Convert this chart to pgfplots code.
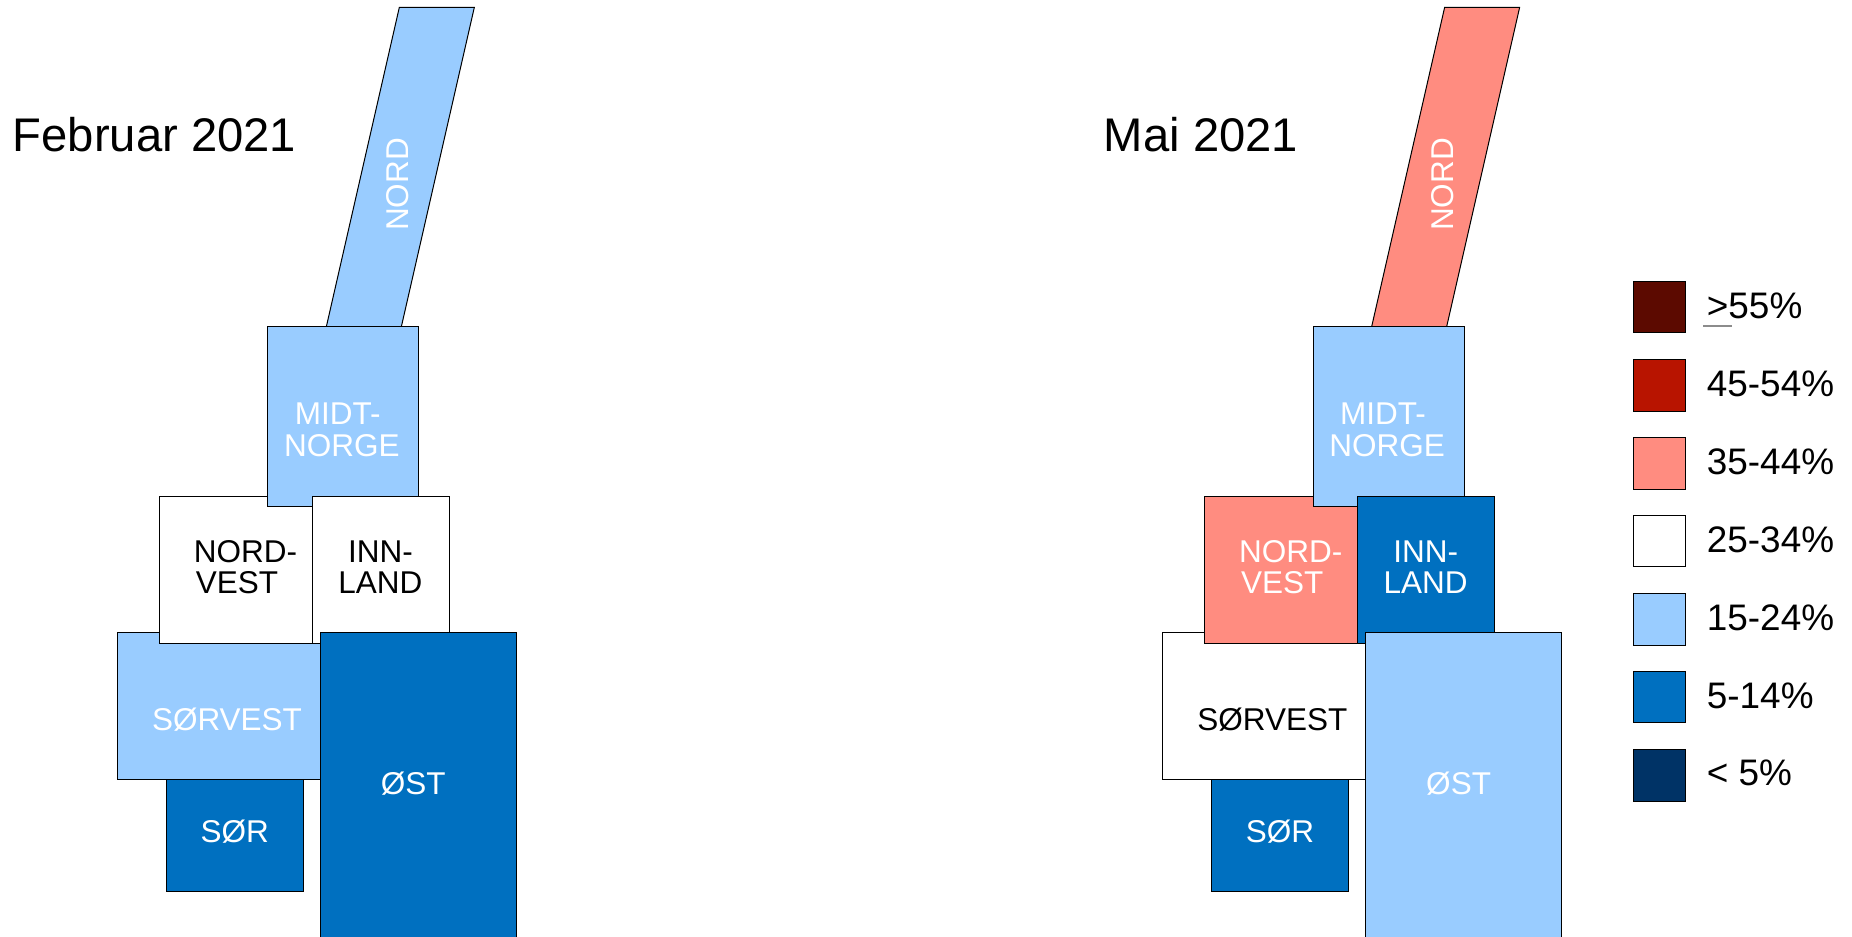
\documentclass[border=0pt]{standalone}
\usepackage{fontspec}
\setmainfont{Liberation Sans}
\usepackage{pgfplots}
\pgfplotsset{compat=1.18}
\definecolor{cA}{HTML}{5C0A00}
\definecolor{cB}{HTML}{B81400}
\definecolor{cC}{HTML}{FF8C80}
\definecolor{cD}{HTML}{FFFFFF}
\definecolor{cE}{HTML}{99CCFF}
\definecolor{cF}{HTML}{0070C0}
\definecolor{cG}{HTML}{003366}
\newcommand{\lab}[4]{\node[anchor=base,inner sep=0pt,text=#4,font=\fontsize{15.75}{15.75}\selectfont] at (axis cs:#1,#2) {#3};}
\newcommand{\leg}[2]{\node[anchor=base west,inner sep=0pt,text=black,font=\fontsize{18.45}{18.45}\selectfont] at (axis cs:1706.5,#1) {#2};}
\begin{document}
\begin{tikzpicture}
\begin{axis}[
  hide axis, scale only axis, width=926pt, height=468.3pt,
  xmin=0, xmax=1852, ymin=0, ymax=937, y dir=reverse,
  every axis plot/.append style={draw=black, line width=0.5pt, mark=none, line join=miter},
]
% Februar 2021
\addplot[fill=cE] coordinates {(399.3,7.5)(474.3,7.5)(401.3,327)(326.3,327)} -- cycle;
\addplot[fill=cF] coordinates {(166.3,780.3)(303.3,780.3)(303.3,891.5)(166.3,891.5)} -- cycle;
\addplot[fill=cE] coordinates {(117,633)(320,633)(320,780.3)(117,780.3)} -- cycle;
\addplot[fill=cD] coordinates {(159.3,497)(320,497)(320,643.3)(159.3,643.3)} -- cycle;
\addplot[fill=cE] coordinates {(267.5,327)(418.7,327)(418.7,506.3)(267.5,506.3)} -- cycle;
\addplot[fill=cD] coordinates {(312.3,497)(449.3,497)(449.3,643.3)(312.3,643.3)} -- cycle;
\addplot[fill=cF] coordinates {(320,633)(516.3,633)(516.3,945)(320,945)} -- cycle;
% Mai 2021
\addplot[fill=cC] coordinates {(1444.6,7.5)(1519.6,7.5)(1446.6,327)(1371.6,327)} -- cycle;
\addplot[fill=cF] coordinates {(1211.6,780.3)(1348.6,780.3)(1348.6,891.5)(1211.6,891.5)} -- cycle;
\addplot[fill=cD] coordinates {(1162.3,633)(1365.3,633)(1365.3,780.3)(1162.3,780.3)} -- cycle;
\addplot[fill=cC] coordinates {(1204.6,497)(1365.3,497)(1365.3,643.3)(1204.6,643.3)} -- cycle;
\addplot[fill=cE] coordinates {(1313,327)(1464,327)(1464,506.3)(1313,506.3)} -- cycle;
\addplot[fill=cF] coordinates {(1357.8,497)(1494.6,497)(1494.6,643.3)(1357.8,643.3)} -- cycle;
\addplot[fill=cE] coordinates {(1365.3,633)(1561.6,633)(1561.6,945)(1365.3,945)} -- cycle;
% legend swatches
\addplot[fill=cA] coordinates {(1633.3,281.3)(1685.7,281.3)(1685.7,333)(1633.3,333)} -- cycle;
\addplot[fill=cB] coordinates {(1633.3,359.7)(1685.7,359.7)(1685.7,411.3)(1633.3,411.3)} -- cycle;
\addplot[fill=cC] coordinates {(1633.3,437.7)(1685.7,437.7)(1685.7,489.5)(1633.3,489.5)} -- cycle;
\addplot[fill=cD] coordinates {(1633.3,516)(1685.7,516)(1685.7,567)(1633.3,567)} -- cycle;
\addplot[fill=cE] coordinates {(1633.3,594)(1685.7,594)(1685.7,645.5)(1633.3,645.5)} -- cycle;
\addplot[fill=cF] coordinates {(1633.3,672)(1685.7,672)(1685.7,723)(1633.3,723)} -- cycle;
\addplot[fill=cG] coordinates {(1633.3,750)(1685.7,750)(1685.7,801.5)(1633.3,801.5)} -- cycle;
\addplot[draw=black!45, line width=0.7pt] coordinates {(1703.3,326)(1731.7,326)};
% titles
\node[anchor=base west,inner sep=0pt,font=\fontsize{23.6}{23.6}\selectfont] at (axis cs:12.5,151.5) {Februar 2021};
\node[anchor=base west,inner sep=0pt,font=\fontsize{23.6}{23.6}\selectfont] at (axis cs:1103.5,151.5) {Mai 2021};
% labels Februar
\node[anchor=base,rotate=90,inner sep=0pt,text=white,font=\fontsize{15.75}{15.75}\selectfont] at (axis cs:408,184.5) {NORD};
\lab{337.7}{424.3}{MIDT-}{white}
\lab{341.8}{456.7}{NORGE}{white}
\lab{245.5}{562.7}{NORD-}{black}
\lab{237}{593.7}{VEST}{black}
\lab{380.5}{562.7}{INN-}{black}
\lab{380.3}{593.7}{LAND}{black}
\lab{227}{730.7}{SØRVEST}{white}
\lab{413.3}{794.7}{ØST}{white}
\lab{234.7}{842.7}{SØR}{white}
% labels Mai
\node[anchor=base,rotate=90,inner sep=0pt,text=white,font=\fontsize{15.75}{15.75}\selectfont] at (axis cs:1453.3,184.5) {NORD};
\lab{1383}{424.3}{MIDT-}{white}
\lab{1387.1}{456.7}{NORGE}{white}
\lab{1290.8}{562.7}{NORD-}{white}
\lab{1282.3}{593.7}{VEST}{white}
\lab{1425.8}{562.7}{INN-}{white}
\lab{1425.6}{593.7}{LAND}{white}
\lab{1272.3}{730.7}{SØRVEST}{black}
\lab{1458.6}{794.7}{ØST}{white}
\lab{1280}{842.7}{SØR}{white}
% legend text
\leg{319}{>55\%}
\leg{396.7}{45-54\%}
\leg{474.3}{35-44\%}
\leg{552.7}{25-34\%}
\leg{630.7}{15-24\%}
\leg{708.3}{5-14\%}
\leg{786}{< 5\%}
\path (axis cs:0,0) rectangle (axis cs:1852,937);
\end{axis}
\end{tikzpicture}
\end{document}
